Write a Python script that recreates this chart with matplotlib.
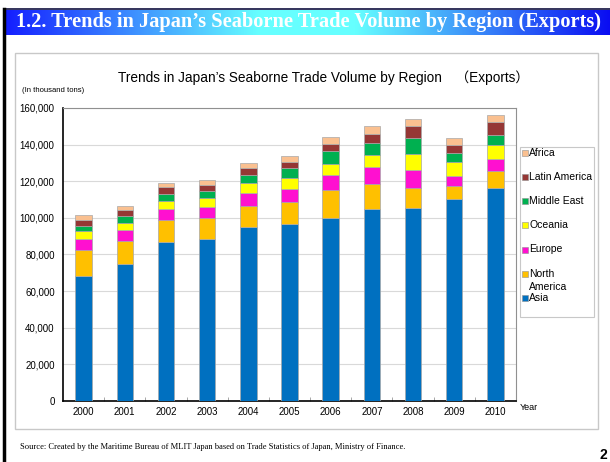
import matplotlib.pyplot as plt
import numpy as np
from matplotlib.patches import Rectangle

years = ['2000', '2001', '2002', '2003', '2004', '2005',
         '2006', '2007', '2008', '2009', '2010']

# export volume by destination region, thousand tons
asia = [68400, 74700, 86900, 88500, 95100, 96400, 100000, 104700, 105400, 110200, 116500]
north_america = [14100, 12600, 12000, 11300, 11400, 12000, 15100, 14000, 11100, 7200, 9200]
europe = [6000, 6100, 5800, 6200, 7100, 7400, 8400, 9200, 9600, 5400, 6600]
oceania = [4200, 3900, 4700, 4900, 5200, 6000, 6000, 6400, 8800, 7800, 7500]
middle_east = [2700, 3800, 3700, 3600, 4500, 5500, 6800, 6400, 8600, 5000, 5500]
latin_america = [3700, 3400, 3500, 3300, 3700, 3300, 4200, 5200, 6400, 4200, 7300]
africa = [2300, 2200, 2400, 2700, 2700, 3300, 3500, 4400, 4000, 3700, 3700]

regions = ['Asia', 'North\nAmerica', 'Europe', 'Oceania', 'Middle East', 'Latin America', 'Africa']
series = [asia, north_america, europe, oceania, middle_east, latin_america, africa]
colors = ['#0070C0', '#FFC000', '#FF10D0', '#FFFF00', '#00B050', '#953735', '#FAC090']

W, H = 610, 462
fig = plt.figure(figsize=(W / 100, H / 100), dpi=100)

def fx(px):
	return px / W

def fy(py):
	return 1 - py / H

# title banner with blue-cyan-blue gradient
bax = fig.add_axes([fx(5), fy(35), fx(605), 25 / H])
grad = np.linspace(0, 1, 400)
r = np.interp(grad, [0, 0.42, 0.58, 1], [0.08, 0.40, 0.40, 0.04])
g = np.interp(grad, [0, 0.42, 0.58, 1], [0.12, 1.00, 1.00, 0.05])
b = np.interp(grad, [0, 0.42, 0.58, 1], [1.00, 1.00, 1.00, 0.95])
bax.imshow(np.dstack([r, g, b]), aspect='auto', extent=[0, 1, 0, 1])
bax.set_axis_off()
fig.text(fx(308), fy(22.5), "1.2. Trends in Japan\u2019s Seaborne Trade Volume by Region (Exports)",
	ha='center', va='center', color='white', fontsize=14.7, fontweight='bold',
	family='Liberation Serif')

# page frame lines
fig.add_artist(plt.Line2D([fx(5), 1], [fy(9), fy(9)], color='#101040', lw=1.2))
fig.add_artist(plt.Line2D([fx(4), fx(4)], [fy(9), 0], color='black', lw=2.5))

# chart box
fig.add_artist(Rectangle((fx(15), fy(429)), fx(583), (429 - 53) / H, fill=False,
	edgecolor='#c8c8c8', lw=1))

ax = fig.add_axes([fx(63), fy(401), fx(453), (401 - 108) / H])
x = np.arange(len(years))
bottom = np.zeros(len(years))
for vals, c in zip(series, colors):
	ax.bar(x, vals, 0.4, bottom=bottom, color=c, edgecolor='#a8a8a8', lw=0.5, zorder=3)
	bottom += np.array(vals)

ax.set_xlim(-0.5, len(years) - 0.5)
ax.set_ylim(0, 160000)
ax.set_yticks(np.arange(0, 160001, 20000))
ax.set_yticklabels(['{:,}'.format(v) for v in range(0, 160001, 20000)],
	fontsize=7, family='Liberation Sans')
ax.set_xticks(x)
ax.set_xticklabels(years, fontsize=7, family='Liberation Sans')
ax.set_xticks(np.arange(0.5, len(years) - 0.5), minor=True)
ax.tick_params(axis='y', length=0, pad=6)
ax.tick_params(axis='x', which='major', length=0, pad=4)
ax.tick_params(axis='x', which='minor', length=3, direction='in', color='#999999')
ax.grid(axis='y', color='#d9d9d9', lw=0.8, zorder=0)
for s in ['left', 'bottom']:
	ax.spines[s].set_color('black')
	ax.spines[s].set_linewidth(1.2)
for s in ['top', 'right']:
	ax.spines[s].set_color('#909090')
	ax.spines[s].set_linewidth(0.8)

fig.text(fx(324), fy(78), 'Trends in Japan\u2019s Seaborne Trade Volume by Region\u3000\uff08Exports\uff09',
	ha='center', va='center', fontsize=9.8, family=['Liberation Sans', 'Noto Sans CJK JP'])
fig.text(fx(22), fy(91), '(In thousand tons)', ha='left', va='center', fontsize=5.5,
	family='Liberation Sans')
fig.text(fx(520), fy(408), 'Year', ha='left', va='center', fontsize=6.5, family='Liberation Sans')

# legend box, top entry Africa down to Asia
fig.add_artist(Rectangle((fx(520), fy(317)), fx(74), (317 - 147) / H, fill=False,
	edgecolor='#c8c8c8', lw=0.8))
ypos = [298, 274, 249.5, 225, 201, 176.5, 153]
for lab, c, yp in zip(regions, colors, ypos):
	fig.add_artist(Rectangle((fx(522), fy(yp + 3)), fx(6), 6 / H, facecolor=c,
		edgecolor='#909090', lw=0.4))
	fig.text(fx(529), fy(yp), lab.split('\n')[0], ha='left', va='center', fontsize=7.5,
		family='Liberation Sans')
	if '\n' in lab:
		fig.text(fx(529), fy(yp + 13), lab.split('\n')[1], ha='left', va='center',
			fontsize=7.5, family='Liberation Sans')

fig.text(fx(20), fy(447), 'Source: Created by the Maritime Bureau of MLIT Japan based on Trade Statistics of Japan, Ministry of Finance.',
	ha='left', va='center', fontsize=6.1, family='Liberation Serif')
fig.text(fx(600), fy(455), '2', ha='left', va='center', fontsize=10, fontweight='bold',
	family='Liberation Sans')

fig.savefig('out.png', dpi=100)
